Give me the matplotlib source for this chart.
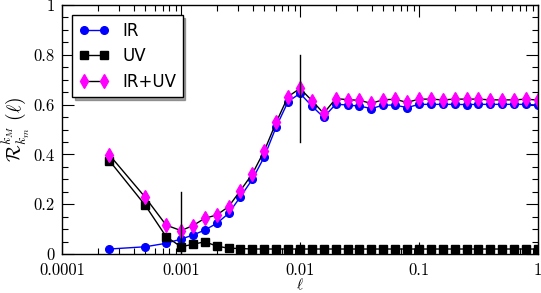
import numpy as np
import matplotlib
matplotlib.use('Agg')
import matplotlib.pyplot as plt
from matplotlib.ticker import FixedLocator, NullFormatter, LogLocator

plt.rcParams['mathtext.fontset'] = 'cm'

# ====================================================================
# data
# ====================================================================
ell = [0.00025, 0.0005, 0.00075, 0.001, 0.00126, 0.00158, 0.002, 0.00251,
       0.00316, 0.00398, 0.00501, 0.00631, 0.00794, 0.01, 0.0126, 0.0158,
       0.02, 0.0251, 0.0316, 0.0398, 0.0501, 0.0631, 0.0794, 0.1, 0.126,
       0.158, 0.2, 0.251, 0.316, 0.398, 0.501, 0.631, 0.794, 1.0]

ir = [0.020, 0.029, 0.043, 0.060, 0.076, 0.096, 0.123, 0.163, 0.230, 0.300,
      0.390, 0.511, 0.612, 0.645, 0.594, 0.549, 0.602, 0.598, 0.594, 0.584,
      0.598, 0.598, 0.588, 0.601, 0.601, 0.601, 0.601, 0.600, 0.601, 0.601,
      0.601, 0.601, 0.601, 0.598]

uv = [0.375, 0.196, 0.070, 0.029, 0.039, 0.049, 0.032, 0.023, 0.022, 0.020,
      0.020, 0.020, 0.020, 0.020, 0.020, 0.020, 0.020, 0.020, 0.020, 0.020,
      0.020, 0.020, 0.020, 0.020, 0.020, 0.020, 0.020, 0.020, 0.020, 0.020,
      0.020, 0.020, 0.020, 0.020]

ir_uv = [0.398, 0.228, 0.116, 0.094, 0.114, 0.143, 0.157, 0.190, 0.255, 0.322,
         0.414, 0.529, 0.632, 0.665, 0.616, 0.565, 0.624, 0.620, 0.617, 0.605,
         0.620, 0.621, 0.609, 0.622, 0.622, 0.619, 0.622, 0.622, 0.622, 0.619,
         0.619, 0.619, 0.622, 0.618]

# vertical markers: (x, y_low, y_high)
vlines = [(0.001, 0.0, 0.25), (0.01, 0.45, 0.80)]

xticks = [0.0001, 0.001, 0.01, 0.1, 1]
xticklabels = ['0.0001', '0.001', '0.01', '0.1', '1']
yticks = [0, 0.2, 0.4, 0.6, 0.8, 1]
yticklabels = ['0', '0.2', '0.4', '0.6', '0.8', '1']

# ====================================================================
# plot
# ====================================================================
fig = plt.figure(figsize=(5.41, 2.93), dpi=100)
ax = fig.add_axes([62 / 541, 1 - 254 / 293, 476 / 541, 249 / 293])

ax.plot(ell, ir, '-o', color='#0000ff', ms=5.5, lw=1, label='IR')
ax.plot(ell, uv, '-s', color='black', mfc='black', mec='black', ms=5.5, lw=1, label='UV')
ax.plot(ell, ir_uv, '-d', color='black', mfc='#ff00ff', mec='#ff00ff', ms=7.5, lw=1,
        label='IR+UV')

for xv, y0, y1 in vlines:
    ax.plot([xv, xv], [y0, y1], color='black', lw=1)

ax.set_xscale('log')
ax.set_xlim(0.0001, 1)
ax.set_ylim(0, 1)
ax.xaxis.set_major_locator(FixedLocator(xticks))
ax.xaxis.set_minor_locator(LogLocator(base=10, subs=np.arange(2, 10), numticks=20))
ax.xaxis.set_minor_formatter(NullFormatter())
ax.set_xticklabels(xticklabels)
ax.set_yticks(yticks)
ax.set_yticklabels(yticklabels)
ax.yaxis.set_minor_locator(FixedLocator(np.arange(0, 1.0001, 0.05)))

ax.tick_params(which='both', direction='in', top=True, right=True)
ax.tick_params(which='major', length=8.5, width=0.8)
ax.tick_params(which='minor', length=4.5, width=0.8)
for lab in ax.get_xticklabels() + ax.get_yticklabels():
    lab.set_fontfamily('cmr10')
    lab.set_fontsize(12)
ax.tick_params(axis='x', pad=6)
ax.tick_params(axis='y', pad=5)

for s in ax.spines.values():
    s.set_linewidth(1.0)

ax.set_xlabel(r'$\ell$', fontsize=11, labelpad=-0.5)
ax.set_ylabel(r'$\mathcal{R}^{k_M}_{k_m}\ (\ell)$', fontsize=14, labelpad=1)

leg = ax.legend(loc='upper left', numpoints=2, fontsize=12, frameon=True,
                fancybox=False, shadow=True, borderaxespad=0.6,
                handlelength=1.8, handletextpad=0.8, labelspacing=0.45,
                borderpad=0.4)
leg.get_frame().set_edgecolor('black')
leg.get_frame().set_linewidth(1.0)

fig.savefig('out.png', dpi=100)
